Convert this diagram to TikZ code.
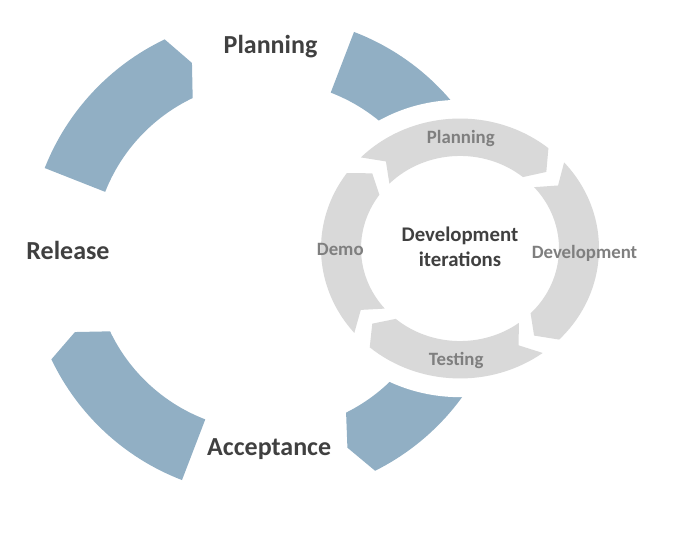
\documentclass[tikz,border=0pt]{standalone}
\usepackage{fontspec}
\setmainfont{Carlito}
\usepackage{tikz}
\definecolor{cycleblue}{HTML}{91AFC4}
\definecolor{cyclegray}{HTML}{D9D9D9}
\definecolor{labeldark}{HTML}{404040}
\definecolor{labelgray}{HTML}{7F7F7F}
\tikzset{bigarc/.style={fill=cycleblue}}
\tikzset{smallarc/.style={fill=cyclegray}}
\tikzset{phase/.style={font=\fontsize{26}{31}\selectfont\bfseries, text=labeldark, inner sep=0pt, anchor=base}}
\tikzset{iterlabel/.style={font=\fontsize{18.8}{22}\selectfont\bfseries, text=labelgray, inner sep=0pt, anchor=base}}
\tikzset{hub/.style={font=\fontsize{20.8}{25}\selectfont\bfseries, text=labeldark, align=center, inner sep=0pt, anchor=base}}

\begin{document}
\begin{tikzpicture}[x=1pt,y=1pt]
  \useasboundingbox (0,0) rectangle (684,557);
  % release cycle
  \begin{scope}[shift={(268,301)}]
    \foreach \s/\e in {158.5/115.5, 69/-63.5, -111/-154.5}
      \fill[bigarc] (\s:240) arc[start angle=\s, end angle=\e, radius=240pt]
        -- ({\e-4}:207.5) -- (\e:175)
        arc[start angle=\e, end angle=\s, radius=175pt] -- cycle;
  \end{scope}
  % iteration cycle
  \begin{scope}[shift={(460,308.5)}, yscale=0.935]
    \fill[white] (0,0) circle[radius=159pt];
    \foreach \s/\e in {135.5/50.5, 41.5/-44.5, -53.5/-130.5, 220.5/144.5}
      \fill[smallarc] (\s:139) arc[start angle=\s, end angle=\e, radius=139pt]
        -- ({\e-7}:119) -- (\e:99)
        arc[start angle=\e, end angle=\s, radius=99pt] -- ({\s-7}:119) -- cycle;
  \end{scope}

  \node[phase] (planning) at (270.5,503) {Planning};
  \node[phase] (release) at (68,297.7) {Release};
  \node[phase] (acceptance) at (269.2,102) {Acceptance};

  \node[iterlabel] (iplanning) at (460.8,413.7) {Planning};
  \node[iterlabel] (idevelopment) at (584.5,298.7) {Development};
  \node[iterlabel] (itesting) at (456.2,191.3) {Testing};
  \node[iterlabel] (idemo) at (340.3,301) {Demo};
  \node[hub] (iterations) at (460,290.3) {Development\\iterations};
\end{tikzpicture}
\end{document}
